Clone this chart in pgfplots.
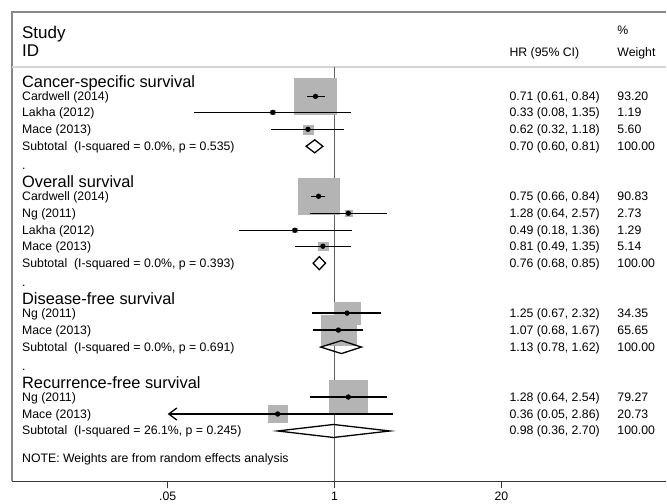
\documentclass[border=0pt]{standalone}
\usepackage{pgfplots}
\pgfplotsset{compat=1.18}
\usepackage{pgfplotstable}
\usepackage{fontspec}
\setmainfont{Liberation Sans}
\usetikzlibrary{arrows.meta}
\definecolor{boxgray}{RGB}{180,180,180}
\definecolor{framegray}{RGB}{135,135,135}
\definecolor{sepgray}{RGB}{212,212,212}
\definecolor{refgray}{RGB}{95,95,95}
\definecolor{axgray}{RGB}{55,55,55}

% studies: HR, lower, upper, % weight, row position (px from top)
\pgfplotstableread{
hr   lo   hi   w     y
0.71 0.61 0.84 93.20 96.5
0.33 0.08 1.35 1.19  112.5
0.62 0.32 1.18 5.60  129.5
0.75 0.66 0.84 90.83 196.5
1.28 0.64 2.57 2.73  213.5
0.49 0.18 1.36 1.29  230.5
0.81 0.49 1.35 5.14  246.5
1.25 0.67 2.32 34.35 313.5
1.07 0.68 1.67 65.65 330.5
1.28 0.64 2.54 79.27 397.5
0.36 0.05 2.86 20.73 414.5
}\studies

\newcommand{\rf}{\fontsize{12.3bp}{14bp}\selectfont}
\newcommand{\hf}{\fontsize{16.4bp}{19bp}\selectfont}
\newcommand{\sfnt}{\fontsize{17bp}{20bp}\selectfont}
\def\xL{0.00365}
\def\xH{23.07}
\def\xW{159.96}
\def\xmn{0.003051}
\def\xmx{385.2}

\begin{document}
\begin{tikzpicture}
\begin{axis}[
  scale only axis, width=655bp, height=470bp,
  xmode=log, xmin=0.003051, xmax=385.2,
  ymin=12, ymax=482, y dir=reverse,
  axis x line*=bottom, axis y line=none,
  x axis line style={axgray, line width=1.6bp},
  xtick={0.05,1,20}, xticklabels={.05,1,20},
  xminorticks=false,
  tick align=outside, major tick length=7bp,
  xtick style={axgray, line width=1.2bp},
  xticklabel style={font=\rf, text=black},
  clip=false, clip marker paths=true,
]
% bounding box of the page
\path (axis cs:\xmn,482) ++(-12bp,-22bp) coordinate (bbsw);
\path (axis cs:\xmx,12) ++(0bp,12bp) coordinate (bbne);
\path (bbsw) rectangle (bbne);
% frame
\draw[framegray, line width=1.5bp] (axis cs:\xmn,482) -- (axis cs:\xmn,12) -- (axis cs:\xmx,12);
\draw[sepgray, line width=1.2bp] (axis cs:\xmn,67) -- (axis cs:\xmx,67);
% null line
\addplot[refgray, line width=1.5bp] coordinates {(1,67) (1,482)};
% weight boxes
\addplot[scatter, only marks, mark=square*,
  scatter/use mapped color={draw=boxgray, fill=boxgray},
  visualization depends on={\thisrow{w} \as \wt},
  scatter/@pre marker code/.append style={/tikz/mark size={2.18*sqrt(\wt)}},
  scatter/@post marker code/.append style={},
  mark options={yscale=0.857}]
  table[x=hr, y=y] \studies;
% confidence intervals
\addplot[black, line width=1.3bp] coordinates {(0.61,96.5) (0.84,96.5)};
\addplot[black, line width=1.3bp] coordinates {(0.08,112.5) (1.35,112.5)};
\addplot[black, line width=1.3bp] coordinates {(0.32,129.5) (1.18,129.5)};
\addplot[black, line width=1.3bp] coordinates {(0.66,196.5) (0.84,196.5)};
\addplot[black, line width=1.3bp] coordinates {(0.64,213.5) (2.57,213.5)};
\addplot[black, line width=1.3bp] coordinates {(0.18,230.5) (1.36,230.5)};
\addplot[black, line width=1.3bp] coordinates {(0.49,246.5) (1.35,246.5)};
\addplot[black, line width=1.3bp] coordinates {(0.67,313.5) (2.32,313.5)};
\addplot[black, line width=1.3bp] coordinates {(0.68,330.5) (1.67,330.5)};
\addplot[black, line width=1.3bp] coordinates {(0.64,397.5) (2.54,397.5)};
\addplot[black, line width=1.3bp, {Straight Barb[length=8bp, width=12bp, line width=1.3bp]}-] coordinates {(0.05,414.5) (2.86,414.5)};
% point estimates
\addplot[only marks, mark=*, mark size=2.4bp, black] table[x=hr, y=y] \studies;
% subtotal diamonds
\addplot[black, line width=1.3bp, line join=miter] coordinates {(0.60,146.5) (0.70,140) (0.81,146.5) (0.70,153)} --cycle;
\addplot[black, line width=1.3bp, line join=miter] coordinates {(0.68,263.5) (0.76,257) (0.85,263.5) (0.76,270)} --cycle;
\addplot[black, line width=1.3bp, line join=miter] coordinates {(0.78,347.5) (1.13,341) (1.62,347.5) (1.13,354)} --cycle;
\addplot[black, line width=1.3bp, line join=miter] coordinates {(0.36,431.5) (0.98,425) (2.70,431.5) (0.98,438)} --cycle;
% header texts
\node[anchor=base west, inner sep=0, font=\sfnt] at (axis cs:\xL,38.5) {Study};
\node[anchor=base west, inner sep=0, font=\sfnt] at (axis cs:\xL,56.5) {ID};
\node[anchor=base west, inner sep=0, font=\rf] at (axis cs:\xH,56.5) {HR (95\% CI)};
\node[anchor=base west, inner sep=0, font=\rf] at (axis cs:\xW,35) {\%};
\node[anchor=base west, inner sep=0, font=\rf] at (axis cs:\xW,56.5) {Weight};
% group headings
\node[anchor=base west, inner sep=0, font=\hf] at (axis cs:\xL,87.2) {Cancer-specific survival};
\node[anchor=base west, inner sep=0, font=\hf] at (axis cs:\xL,187.65) {Overall survival};
\node[anchor=base west, inner sep=0, font=\hf] at (axis cs:\xL,304.9) {Disease-free survival};
\node[anchor=base west, inner sep=0, font=\hf] at (axis cs:\xL,388.65) {Recurrence-free survival};
% study labels
\node[anchor=base west, inner sep=0, font=\rf] at (axis cs:\xL,100.3) {Cardwell (2014)};
\node[anchor=base west, inner sep=0, font=\rf] at (axis cs:\xL,117.05) {Lakha (2012)};
\node[anchor=base west, inner sep=0, font=\rf] at (axis cs:\xL,133.8) {Mace (2013)};
\node[anchor=base west, inner sep=0, font=\rf] at (axis cs:\xL,150.55) {Subtotal\ \ (I-squared = 0.0\%, p = 0.535)};
\node[anchor=base west, inner sep=0, font=\rf] at (axis cs:\xL,170) {.};
\node[anchor=base west, inner sep=0, font=\rf] at (axis cs:\xL,200.8) {Cardwell (2014)};
\node[anchor=base west, inner sep=0, font=\rf] at (axis cs:\xL,217.55) {Ng (2011)};
\node[anchor=base west, inner sep=0, font=\rf] at (axis cs:\xL,234.3) {Lakha (2012)};
\node[anchor=base west, inner sep=0, font=\rf] at (axis cs:\xL,251.05) {Mace (2013)};
\node[anchor=base west, inner sep=0, font=\rf] at (axis cs:\xL,267.8) {Subtotal\ \ (I-squared = 0.0\%, p = 0.393)};
\node[anchor=base west, inner sep=0, font=\rf] at (axis cs:\xL,287) {.};
\node[anchor=base west, inner sep=0, font=\rf] at (axis cs:\xL,318.05) {Ng (2011)};
\node[anchor=base west, inner sep=0, font=\rf] at (axis cs:\xL,334.8) {Mace (2013)};
\node[anchor=base west, inner sep=0, font=\rf] at (axis cs:\xL,351.55) {Subtotal\ \ (I-squared = 0.0\%, p = 0.691)};
\node[anchor=base west, inner sep=0, font=\rf] at (axis cs:\xL,371) {.};
\node[anchor=base west, inner sep=0, font=\rf] at (axis cs:\xL,401.8) {Ng (2011)};
\node[anchor=base west, inner sep=0, font=\rf] at (axis cs:\xL,418.55) {Mace (2013)};
\node[anchor=base west, inner sep=0, font=\rf] at (axis cs:\xL,435.3) {Subtotal\ \ (I-squared = 26.1\%, p = 0.245)};
\node[anchor=base west, inner sep=0, font=\rf] at (axis cs:\xL,463) {NOTE: Weights are from random effects analysis};
% HR column
\node[anchor=base west, inner sep=0, font=\rf] at (axis cs:\xH,100.3) {0.71 (0.61, 0.84)};
\node[anchor=base west, inner sep=0, font=\rf] at (axis cs:\xH,117.05) {0.33 (0.08, 1.35)};
\node[anchor=base west, inner sep=0, font=\rf] at (axis cs:\xH,133.8) {0.62 (0.32, 1.18)};
\node[anchor=base west, inner sep=0, font=\rf] at (axis cs:\xH,150.55) {0.70 (0.60, 0.81)};
\node[anchor=base west, inner sep=0, font=\rf] at (axis cs:\xH,200.8) {0.75 (0.66, 0.84)};
\node[anchor=base west, inner sep=0, font=\rf] at (axis cs:\xH,217.55) {1.28 (0.64, 2.57)};
\node[anchor=base west, inner sep=0, font=\rf] at (axis cs:\xH,234.3) {0.49 (0.18, 1.36)};
\node[anchor=base west, inner sep=0, font=\rf] at (axis cs:\xH,251.05) {0.81 (0.49, 1.35)};
\node[anchor=base west, inner sep=0, font=\rf] at (axis cs:\xH,267.8) {0.76 (0.68, 0.85)};
\node[anchor=base west, inner sep=0, font=\rf] at (axis cs:\xH,318.05) {1.25 (0.67, 2.32)};
\node[anchor=base west, inner sep=0, font=\rf] at (axis cs:\xH,334.8) {1.07 (0.68, 1.67)};
\node[anchor=base west, inner sep=0, font=\rf] at (axis cs:\xH,351.55) {1.13 (0.78, 1.62)};
\node[anchor=base west, inner sep=0, font=\rf] at (axis cs:\xH,401.8) {1.28 (0.64, 2.54)};
\node[anchor=base west, inner sep=0, font=\rf] at (axis cs:\xH,418.55) {0.36 (0.05, 2.86)};
\node[anchor=base west, inner sep=0, font=\rf] at (axis cs:\xH,435.3) {0.98 (0.36, 2.70)};
% weight column
\node[anchor=base west, inner sep=0, font=\rf] at (axis cs:\xW,100.3) {93.20};
\node[anchor=base west, inner sep=0, font=\rf] at (axis cs:\xW,117.05) {1.19};
\node[anchor=base west, inner sep=0, font=\rf] at (axis cs:\xW,133.8) {5.60};
\node[anchor=base west, inner sep=0, font=\rf] at (axis cs:\xW,150.55) {100.00};
\node[anchor=base west, inner sep=0, font=\rf] at (axis cs:\xW,200.8) {90.83};
\node[anchor=base west, inner sep=0, font=\rf] at (axis cs:\xW,217.55) {2.73};
\node[anchor=base west, inner sep=0, font=\rf] at (axis cs:\xW,234.3) {1.29};
\node[anchor=base west, inner sep=0, font=\rf] at (axis cs:\xW,251.05) {5.14};
\node[anchor=base west, inner sep=0, font=\rf] at (axis cs:\xW,267.8) {100.00};
\node[anchor=base west, inner sep=0, font=\rf] at (axis cs:\xW,318.05) {34.35};
\node[anchor=base west, inner sep=0, font=\rf] at (axis cs:\xW,334.8) {65.65};
\node[anchor=base west, inner sep=0, font=\rf] at (axis cs:\xW,351.55) {100.00};
\node[anchor=base west, inner sep=0, font=\rf] at (axis cs:\xW,401.8) {79.27};
\node[anchor=base west, inner sep=0, font=\rf] at (axis cs:\xW,418.55) {20.73};
\node[anchor=base west, inner sep=0, font=\rf] at (axis cs:\xW,435.3) {100.00};
\end{axis}
\end{tikzpicture}
\end{document}
